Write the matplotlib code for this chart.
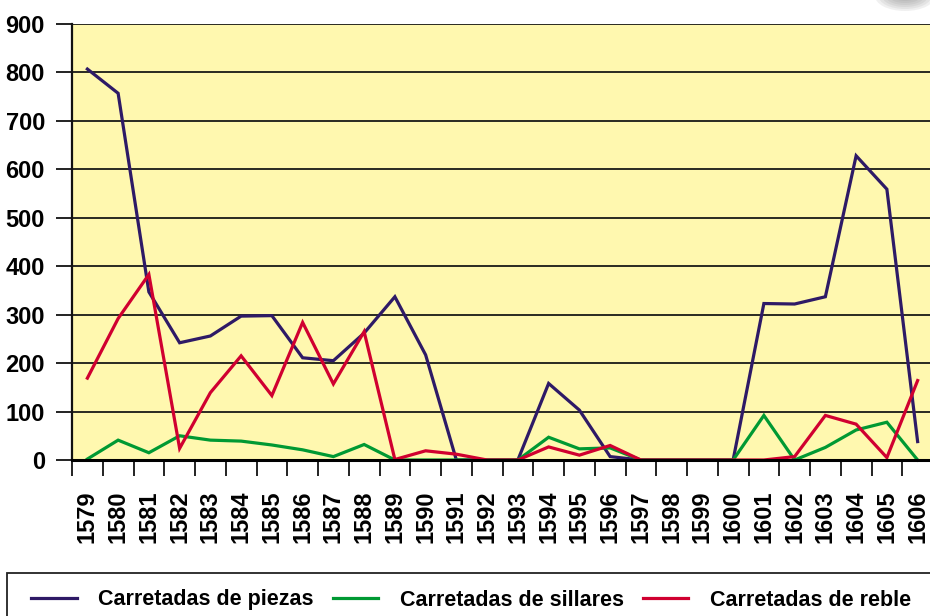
import matplotlib
matplotlib.use('Agg')
import matplotlib.pyplot as plt
from matplotlib.patches import Rectangle, Ellipse
import numpy as np

# Years and series values (carretadas)
years = list(range(1579, 1607))
piezas = [807, 757, 347, 242, 256, 297, 298, 211, 205, 262, 337, 217, 0, 0,
          0, 158, 103, 7, 0, 0, 0, 0, 323, 322, 337, 628, 559, 38]
sillares = [2, 41, 15, 50, 41, 39, 31, 21, 7, 32, 0, 0, 0, 0,
            0, 47, 23, 25, 0, 0, 0, 0, 92, 0, 26, 62, 78, 0]
reble = [169, 292, 383, 24, 139, 215, 133, 284, 157, 265, 1, 19, 12, 0,
         0, 27, 10, 30, 0, 0, 0, 0, 0, 7, 92, 74, 5, 164]
series_labels = ['Carretadas de piezas', 'Carretadas de sillares', 'Carretadas de reble']
y_ticks = [0, 100, 200, 300, 400, 500, 600, 700, 800, 900]

colors = ['#2E1A66', '#009933', '#D00030']
bg = '#FFF8AF'

plt.rcParams['font.family'] = ['Liberation Sans', 'DejaVu Sans']
plt.rcParams['font.weight'] = 'bold'

W, H = 930, 616
fig = plt.figure(figsize=(W / 100, H / 100), dpi=100)
ax = fig.add_axes([72 / W, 1 - 460 / H, 861 / W, 436 / H])
ax.set_facecolor(bg)

x = np.arange(len(years))
for vals, col, lab in zip([piezas, sillares, reble], colors, series_labels):
    ax.plot(x, vals, color=col, lw=2.3, label=lab, solid_joinstyle='miter', clip_on=False)

ax.set_xlim(-0.5, len(years) - 0.5)
ax.set_ylim(0, 900)

# horizontal gridlines
ax.set_yticks(y_ticks)
ax.set_yticklabels([str(v) for v in y_ticks], fontsize=17, fontweight='bold')
ax.yaxis.grid(True, color='#2a2a22', lw=1.4)
ax.set_axisbelow(True)
ax.tick_params(axis='y', length=11.5, width=1.4, color='#222222', pad=8)

# category boundaries as major ticks, labels on minor ticks
ax.set_xticks(np.arange(-0.5, len(years), 1.0))
ax.set_xticklabels([])
ax.set_xticks(x, minor=True)
ax.set_xticklabels([str(y) for y in years], minor=True, rotation=90,
                   fontsize=17, fontweight='bold', va='top')
ax.tick_params(axis='x', which='major', length=11.5, width=1.4, color='#222222')
ax.tick_params(axis='x', which='minor', length=0, pad=22)

for s in ['top', 'right']:
    ax.spines[s].set_visible(False)
ax.spines['left'].set_linewidth(1.6)
ax.spines['bottom'].set_linewidth(2.2)
ax.spines['left'].set_color('#111111')
ax.spines['bottom'].set_color('#000000')

# legend box
fig.patches.append(Rectangle((7 / W, -0.1), 1.1, 0.1 + 43 / H, transform=fig.transFigure,
                             fill=False, edgecolor='#222222', lw=1.3))
handles, labels = ax.get_legend_handles_labels()
fig.legend(handles, labels, loc='center left', bbox_to_anchor=(12 / W, 1 - 600 / H),
           ncol=3, frameon=False, handlelength=2.1, handletextpad=1.0,
           columnspacing=0.9, prop={'weight': 'bold', 'size': 15.5})

# grey shadow blob in the corner
for i in range(6):
    fig.patches.append(Ellipse((905 / W, 1 + 4 / H), (60 - i * 7) / W, (30 - i * 4) / H,
                               transform=fig.transFigure, color='#888888', alpha=0.12, lw=0))

fig.savefig('out.png', dpi=100)
